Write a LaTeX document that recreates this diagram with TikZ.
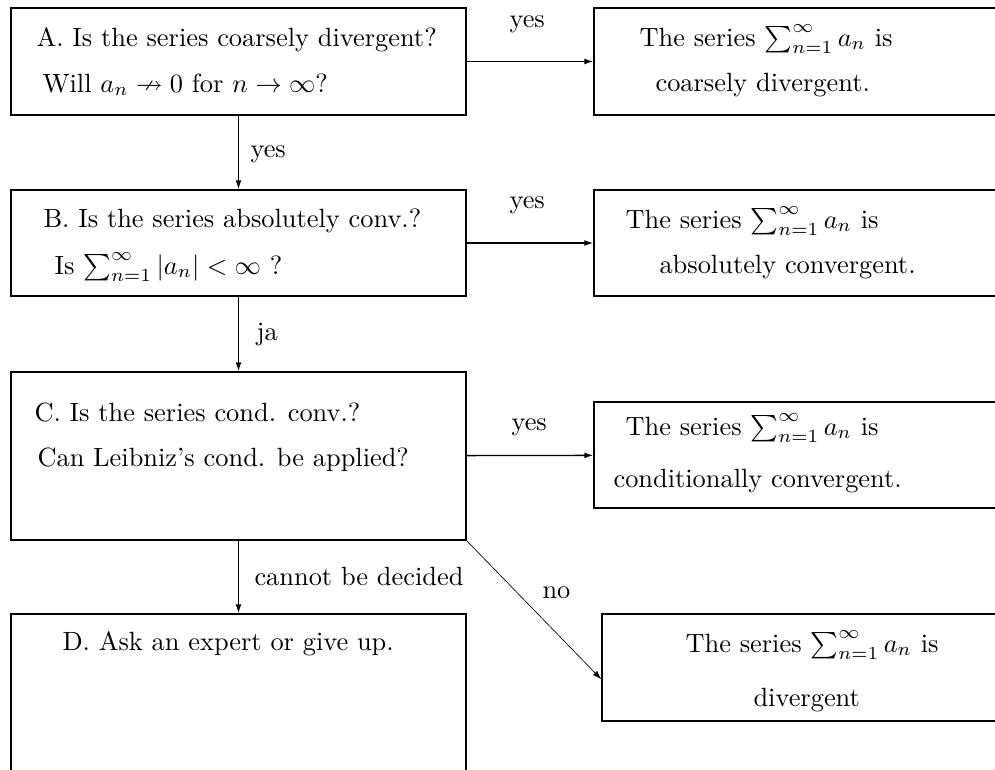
\documentclass[tikz,border=0pt]{standalone}
\usepackage{amsmath}
\usepackage{amssymb}
\usetikzlibrary{arrows.meta,fit}

\tikzset{
  box/.style={draw, line width=0.5pt, inner sep=0pt},
  txt/.style={anchor=base west, inner sep=0pt},
  flow/.style={line width=0.5pt, -{Latex[length=3.4pt,width=2.2pt]}}
}

\begin{document}
\begin{tikzpicture}[x=0.379pt,y=-0.379pt]

  \useasboundingbox (0,0) rectangle (995,769);
  \clip (0,0) rectangle (995,769);

  % question boxes
  \node[box, fit={(11,8) (466,115)}] (A) {};
  \node[box, fit={(11,190) (466,296)}] (B) {};
  \node[box, fit={(11,372) (466,540)}] (C) {};
  \node[box, fit={(11,614) (466,800)}] (D) {};

  % answer boxes
  \node[box, fit={(594,8) (1010,115)}] (Ar) {};
  \node[box, fit={(594,190) (1010,296)}] (Br) {};
  \node[box, fit={(594,402) (1010,508)}] (Cr) {};
  \node[box, fit={(602,614) (1010,721)}] (Dr) {};

  % texts
  \node[txt] (A1) at (36,46) {A. Is the series coarsely divergent?};
  \node[txt] (A2) at (42,92) {Will $a_n \nrightarrow 0$ for $n \to \infty$?};
  \node[txt] (B1) at (43,227) {B. Is the series absolutely conv.?};
  \node[txt] (B2) at (54,274) {Is $\sum_{n=1}^{\infty} |a_n| < \infty$ ?};
  \node[txt] (C1) at (34,421) {C. Is the series cond. conv.?};
  \node[txt] (C2) at (37,466) {Can Leibniz's cond. be applied?};
  \node[txt] (D1) at (62,650) {D. Ask an expert or give up.};

  \node[txt] (Ar1) at (639,46) {The series $\sum_{n=1}^{\infty} a_n$ is};
  \node[txt] (Ar2) at (655,91) {coarsely divergent.};
  \node[txt] (Br1) at (625,228) {The series $\sum_{n=1}^{\infty} a_n$ is};
  \node[txt] (Br2) at (659,273) {absolutely convergent.};
  \node[txt] (Cr1) at (625,435) {The series $\sum_{n=1}^{\infty} a_n$ is};
  \node[txt] (Cr2) at (613,487) {conditionally convergent.};
  \node[txt] (Dr1) at (685,652) {The series $\sum_{n=1}^{\infty} a_n$ is};
  \node[txt] (Dr2) at (753,706) {divergent};

  % connectors
  \draw[flow] (A) -- (Ar);
  \draw[flow] (B) -- (Br);
  \draw[flow] (C) -- (Cr);
  \draw[flow] (A) -- (B);
  \draw[flow] (B) -- (C);
  \draw[flow] (C) -- (D);
  \draw[flow, line width=0.25pt] (C.south east) -- ([yshift=-4.5pt]Dr.west);

  % labels
  \node[txt] (l1) at (509,27) {yes};
  \node[txt] (l2) at (250,157) {yes};
  \node[txt] (l3) at (509,208) {yes};
  \node[txt] (l4) at (256,340) {ja};
  \node[txt] (l5) at (511,430) {yes};
  \node[txt] (l6) at (254,585) {cannot be decided};
  \node[txt] (l7) at (542,598) {no};

\end{tikzpicture}
\end{document}
